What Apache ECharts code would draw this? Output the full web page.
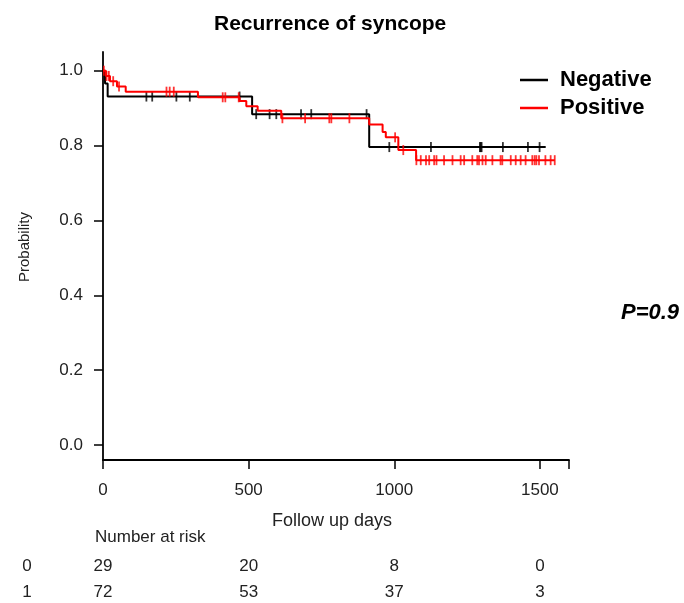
<!DOCTYPE html>
<html>
<head>
<meta charset="utf-8">
<script src="https://cdn.jsdelivr.net/npm/echarts@6/dist/echarts.min.js"></script>
<style>
    html, body { margin: 0; padding: 0; background: #fff; }
    #main { width: 684px; height: 603px; }
</style>
</head>
<body>
<div id="main"></div>
<script>
// KM step data (days, survival)
var negTime = [0, 7, 16, 512, 914, 1520];
var negSurv = [1, 0.966, 0.931, 0.884, 0.796, 0.796];
var posTime = [0, 10, 24, 48, 78, 326, 469, 492, 531, 612, 914, 960, 971, 1014, 1075, 1551];
var posSurv = [1, 0.986, 0.972, 0.958, 0.944, 0.929, 0.919, 0.905, 0.893, 0.873, 0.856, 0.836, 0.822, 0.788, 0.761, 0.761];

// censored times
var negCens = [149, 169, 252, 298, 469, 526, 572, 595, 680, 715, 905, 983, 1126, 1294, 1297, 1300, 1373, 1459, 1499];
var posCens = [3, 12, 20, 35, 55, 218, 229, 243, 411, 420, 466, 616, 694, 777, 784, 846, 1003, 1031,
    1076, 1091, 1109, 1120, 1137, 1145, 1171, 1200, 1228, 1240, 1268, 1285, 1291, 1303, 1314, 1337,
    1365, 1371, 1400, 1417, 1434, 1451, 1474, 1482, 1488, 1497, 1519, 1537, 1551];

// number at risk table
var riskTimes = [0, 500, 1000, 1500];
var riskNeg = [29, 20, 8, 0];
var riskPos = [72, 53, 37, 3];
var riskGroups = ['0', '1'];

var yTicks = [0, 0.2, 0.4, 0.6, 0.8, 1.0];

var font = 'Liberation Sans, Arial, sans-serif';

function pairs(t, s) {
    var out = [];
    for (var i = 0; i < t.length; i++) out.push([t[i], s[i]]);
    return out;
}

// value of the step curve at time x
function survAt(t, s, x) {
    var v = s[0];
    for (var i = 0; i < t.length; i++) {
        if (t[i] <= x) v = s[i];
    }
    return v;
}

function censPoints(cens, t, s) {
    var out = [];
    for (var i = 0; i < cens.length; i++) out.push([cens[i], survAt(t, s, cens[i])]);
    return out;
}

var chart = echarts.init(document.getElementById('main'));

var option = {
    animation: false,
    backgroundColor: '#fff',
    title: {
        text: 'Recurrence of syncope',
        left: 209,
        top: 9,
        textStyle: { fontFamily: font, fontSize: 21, fontWeight: 'bold', color: '#000' }
    },
    legend: {
        data: ['Negative', 'Positive'],
        orient: 'vertical',
        left: 515,
        top: 63,
        icon: 'rect',
        itemWidth: 28,
        itemHeight: 2.5,
        itemGap: 4,
        textStyle: { fontFamily: font, fontSize: 22, fontWeight: 'bold', color: '#000', padding: [0, 0, 0, 7], lineHeight: 24 }
    },
    grid: { left: 103, right: 115, top: 52, bottom: 143 },
    xAxis: {
        type: 'value',
        min: 0,
        max: 1600,
        interval: 500,
        splitLine: { show: false },
        axisLine: { show: true, onZero: false, lineStyle: { color: '#000', width: 1.8 } },
        axisTick: { show: true, length: 9, lineStyle: { color: '#000', width: 1.5 } },
        axisLabel: {
            margin: 22,
            fontFamily: font, fontSize: 17, color: '#222',
            formatter: function (v) { return v > 1500 ? '' : String(v); }
        }
    },
    yAxis: {
        type: 'value',
        min: -0.04,
        max: 1.05,
        splitLine: { show: false },
        axisLine: { show: true, onZero: false, lineStyle: { color: '#000', width: 1.8 } },
        axisTick: { show: true, length: 9, customValues: yTicks, lineStyle: { color: '#000', width: 1.5 } },
        axisLabel: {
            margin: 20,
            customValues: yTicks,
            fontFamily: font, fontSize: 17, color: '#222',
            formatter: function (v) { return v.toFixed(1); }
        }
    },
    series: [
        {
            name: 'Negative',
            type: 'line',
            step: 'end',
            data: pairs(negTime, negSurv),
            showSymbol: false,
            color: '#000',
            lineStyle: { color: '#000', width: 2 },
            z: 2
        },
        {
            name: 'Negative censored',
            type: 'scatter',
            data: censPoints(negCens, negTime, negSurv),
            symbol: 'rect',
            symbolSize: [1.8, 10],
            itemStyle: { color: '#000' },
            z: 2
        },
        {
            name: 'Positive',
            type: 'line',
            step: 'end',
            data: pairs(posTime, posSurv),
            showSymbol: false,
            color: '#ff0000',
            lineStyle: { color: '#ff0000', width: 2 },
            z: 3
        },
        {
            name: 'Positive censored',
            type: 'scatter',
            data: censPoints(posCens, posTime, posSurv),
            symbol: 'rect',
            symbolSize: [1.8, 10],
            itemStyle: { color: '#ff0000' },
            z: 3
        }
    ]
};
chart.setOption(option);

// texts around the plot + risk table placed on the x scale
var graphics = [
    {
        type: 'text', x: 25, y: 247, rotation: Math.PI / 2,
        style: { text: 'Probability', fontFamily: font, fontSize: 15, fill: '#222', align: 'center', verticalAlign: 'middle' }
    },
    {
        type: 'text', x: 332, y: 521,
        style: { text: 'Follow up days', fontFamily: font, fontSize: 18, fill: '#222', align: 'center', verticalAlign: 'middle' }
    },
    {
        type: 'text', x: 95, y: 537,
        style: { text: 'Number at risk', fontFamily: font, fontSize: 17, fill: '#222', align: 'left', verticalAlign: 'middle' }
    },
    {
        type: 'text', x: 621, y: 313,
        style: { text: 'P=0.9', fontFamily: font, fontSize: 22, fontWeight: 'bold', fontStyle: 'italic', fill: '#000', align: 'left', verticalAlign: 'middle' }
    }
];
var rowY = [566, 592];
var rows = [riskNeg, riskPos];
for (var r = 0; r < rows.length; r++) {
    graphics.push({
        type: 'text', x: 27, y: rowY[r],
        style: { text: riskGroups[r], fontFamily: font, fontSize: 17, fill: '#222', align: 'center', verticalAlign: 'middle' }
    });
    for (var i = 0; i < riskTimes.length; i++) {
        var px = chart.convertToPixel({ xAxisIndex: 0 }, riskTimes[i]);
        graphics.push({
            type: 'text', x: px, y: rowY[r],
            style: { text: String(rows[r][i]), fontFamily: font, fontSize: 17, fill: '#222', align: 'center', verticalAlign: 'middle' }
        });
    }
}
chart.setOption({ graphic: graphics });
</script>
</body>
</html>
